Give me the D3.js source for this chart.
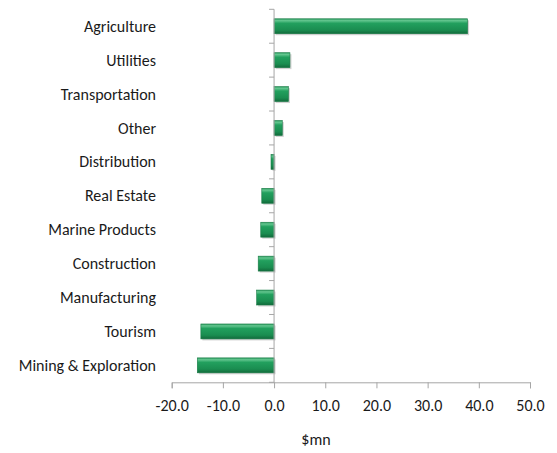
<!DOCTYPE html>
<html>
<head>
<meta charset="utf-8">
<script src="https://cdn.jsdelivr.net/npm/d3@7"></script>
<style>
  body { margin: 0; background: #fff; }
  text { font-family: Carlito, Lato, "Open Sans", sans-serif; fill: #1a1a1a; }
</style>
</head>
<body>
<svg id="chart" width="557" height="453"></svg>
<script>
const sectors = ['Agriculture', 'Utilities', 'Transportation', 'Other', 'Distribution',
  'Real Estate', 'Marine Products', 'Construction', 'Manufacturing', 'Tourism', 'Mining & Exploration'];
const values = [37.8, 3.1, 2.8, 1.6, -0.6, -2.4, -2.6, -3.1, -3.4, -14.3, -15.0];
const xTicks = [-20, -10, 0, 10, 20, 30, 40, 50];
const axisTitle = '$mn';

const svg = d3.select('#chart');
const margin = { top: 9.3, left: 171.7, right: 27, bottom: 70.7 };
const width = 557 - margin.left - margin.right;
const height = 453 - margin.top - margin.bottom;
const fontSize = 16;

const x = d3.scaleLinear().domain([-20, 50]).range([margin.left, margin.left + width]);
const y = d3.scaleBand().domain(sectors)
  .range([margin.top, margin.top + height])
  .paddingInner(0.56).paddingOuter(0.28);

// gradient for the bevelled bars
const defs = svg.append('defs');
const grad = defs.append('linearGradient')
  .attr('id', 'barGrad')
  .attr('x1', 0).attr('y1', 0).attr('x2', 0).attr('y2', 1);
grad.append('stop').attr('offset', '0%').attr('stop-color', '#2f9e62');
grad.append('stop').attr('offset', '12%').attr('stop-color', '#62c58e');
grad.append('stop').attr('offset', '30%').attr('stop-color', '#22a05e');
grad.append('stop').attr('offset', '75%').attr('stop-color', '#1a8d50');
grad.append('stop').attr('offset', '100%').attr('stop-color', '#126a3b');

// bar shadows
svg.append('g')
  .selectAll('rect')
  .data(values)
  .join('rect')
  .attr('x', d => Math.min(x(0), x(d)) + 1.5)
  .attr('y', (d, i) => y(sectors[i]) + 1.5)
  .attr('width', d => Math.abs(x(d) - x(0)))
  .attr('height', y.bandwidth())
  .attr('fill', '#bdbdbd')
  .attr('opacity', 0.7);

// bars
svg.append('g')
  .selectAll('rect')
  .data(values)
  .join('rect')
  .attr('x', d => Math.min(x(0), x(d)))
  .attr('y', (d, i) => y(sectors[i]))
  .attr('width', d => Math.abs(x(d) - x(0)))
  .attr('height', y.bandwidth())
  .attr('fill', 'url(#barGrad)')
  .attr('stroke', '#167a44')
  .attr('stroke-width', 0.6);

// x axis
const fmt = d3.format('.1f');
const xAxis = svg.append('g')
  .attr('transform', `translate(0,${margin.top + height})`)
  .call(d3.axisBottom(x).tickValues(xTicks).tickSize(6).tickPadding(11)
    .tickFormat(d => fmt(d).replace('\u2212', '-')));
xAxis.selectAll('path, line').attr('stroke', '#a6a6a6');
xAxis.selectAll('text').attr('font-size', fontSize)
  .style('font-family', 'Carlito, Lato, sans-serif').attr('fill', '#1a1a1a');

// y axis at zero with ticks on band boundaries
const yg = svg.append('g').attr('transform', `translate(${x(0)},0)`);
yg.append('line')
  .attr('y1', margin.top).attr('y2', margin.top + height)
  .attr('stroke', '#a6a6a6');
yg.selectAll('.tk')
  .data(d3.range(sectors.length + 1))
  .join('line')
  .attr('class', 'tk')
  .attr('x1', -5).attr('x2', 0)
  .attr('y1', i => margin.top + i * height / sectors.length)
  .attr('y2', i => margin.top + i * height / sectors.length)
  .attr('stroke', '#a6a6a6');

// category labels
svg.append('g')
  .selectAll('text')
  .data(sectors)
  .join('text')
  .attr('x', 156)
  .attr('y', d => y(d) + y.bandwidth() / 2)
  .attr('dy', '0.35em')
  .attr('text-anchor', 'end')
  .attr('font-size', fontSize)
  .text(d => d);

// axis title
svg.append('text')
  .attr('x', 316)
  .attr('y', 445)
  .attr('text-anchor', 'middle')
  .attr('font-size', fontSize)
  .text(axisTitle);
</script>
</body>
</html>
